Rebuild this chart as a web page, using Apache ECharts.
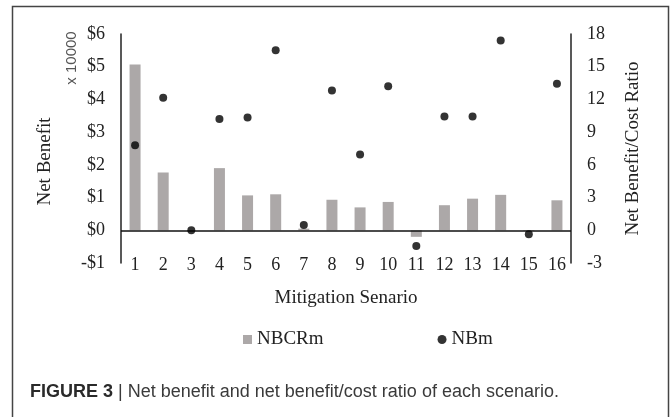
<!DOCTYPE html>
<html>
<head>
<meta charset="utf-8">
<script src="https://cdn.jsdelivr.net/npm/echarts@6/dist/echarts.min.js"></script>
<style>
html,body{margin:0;padding:0;background:#fff;}
#chart{width:672px;height:417px;}
</style>
</head>
<body>
<div id="chart"></div>
<script>
var categories = ['1','2','3','4','5','6','7','8','9','10','11','12','13','14','15','16'];
// Net benefit / cost ratio (bars, right axis)
var nbcrm = [15.2, 5.3, 0, 5.7, 3.2, 3.3, 0.15, 2.8, 2.1, 2.6, -0.6, 2.3, 2.9, 3.25, -0.05, 2.75];
// Net benefit, x 10000 $ (dots, left axis)
var nbm = [2.6, 4.05, 0.0, 3.4, 3.45, 5.5, 0.16, 4.27, 2.32, 4.4, -0.48, 3.48, 3.48, 5.8, -0.12, 4.48];
var leftTickLabels = ['-$1','$0','$1','$2','$3','$4','$5','$6'];
var rightTickLabels = ['-3','0','3','6','9','12','15','18'];

var serif = '"Liberation Serif","Times New Roman",serif';
var chart = echarts.init(document.getElementById('chart'));
chart.setOption({
  animation: false,
  backgroundColor: '#fff',
  grid: {left: 121, right: 101, top: 34, bottom: 154, containLabel: false},
  legend: {
    left: 238, top: 325,
    itemWidth: 9, itemHeight: 9, itemGap: 114,
    textStyle: {fontFamily: serif, fontSize: 19, color: '#222'},
    data: [{name: 'NBCRm', icon: 'rect'}, {name: 'NBm', icon: 'circle'}]
  },
  xAxis: {
    type: 'category',
    data: categories,
    name: 'Mitigation Senario',
    nameLocation: 'middle',
    nameGap: 26,
    nameTextStyle: {fontFamily: serif, fontSize: 19, color: '#222'},
    axisLine: {show: false, onZero: false},
    axisTick: {show: false},
    axisLabel: {margin: -7, fontFamily: serif, fontSize: 18, color: '#222'},
    splitLine: {show: false}
  },
  yAxis: [{
    type: 'value', min: -1, max: 6, interval: 1, position: 'left',
    name: 'Net Benefit', nameLocation: 'middle', nameRotate: 90, nameGap: 66,
    nameTextStyle: {fontFamily: serif, fontSize: 19, color: '#222', padding: [0, 26, 0, 0]},
    axisLine: {show: true, onZero: false, lineStyle: {color: '#222', width: 1.5}},
    axisTick: {show: false},
    splitLine: {show: false},
    axisLabel: {margin: 16, fontFamily: serif, fontSize: 18, color: '#222',
      formatter: function (v) { return leftTickLabels[Math.round(v) + 1]; }}
  }, {
    type: 'value', min: -3, max: 18, interval: 3, position: 'right',
    name: 'Net Benefit/Cost Ratio', nameLocation: 'middle', nameRotate: 90, nameGap: 53,
    nameTextStyle: {fontFamily: serif, fontSize: 19, color: '#222'},
    axisLine: {show: true, onZero: false, lineStyle: {color: '#222', width: 1.5}},
    axisTick: {show: false},
    splitLine: {show: false},
    axisLabel: {margin: 16, fontFamily: serif, fontSize: 18, color: '#222',
      formatter: function (v) { return rightTickLabels[Math.round(v / 3) + 1]; }}
  }],
  series: [{
    name: 'NBCRm', type: 'bar', yAxisIndex: 1, data: nbcrm,
    barWidth: 11,
    itemStyle: {color: '#aca8a8'},
    markLine: {
      silent: true, symbol: 'none', label: {show: false},
      lineStyle: {color: '#111', width: 1.5, type: 'solid'},
      data: [{yAxis: 0}]
    },
    z: 2
  }, {
    name: 'NBm', type: 'scatter', yAxisIndex: 0, data: nbm,
    symbol: 'circle', symbolSize: 8,
    itemStyle: {color: '#000'},
    z: 5
  }],
  graphic: [{
    type: 'rect', silent: true,
    shape: {x: 12.5, y: 6.5, width: 656, height: 420},
    style: {fill: 'none', stroke: '#444', lineWidth: 1.5}
  }, {
    type: 'text', silent: true,
    x: 72, y: 58, rotation: Math.PI / 2,
    style: {text: 'x 10000', fontFamily: '"Liberation Sans",Arial,sans-serif', fontSize: 15,
      fill: '#555', align: 'center', verticalAlign: 'middle'}
  }, {
    type: 'text', silent: true,
    left: 30, top: 383,
    style: {
      text: '{b|FIGURE 3} {n|| Net benefit and net benefit/cost ratio of each scenario.}',
      rich: {
        b: {fontFamily: '"Liberation Sans",Arial,sans-serif', fontSize: 18, fontWeight: 'bold', fill: '#2a2a2a'},
        n: {fontFamily: '"Liberation Sans",Arial,sans-serif', fontSize: 18, fill: '#3a3a3a'}
      },
      fontFamily: '"Liberation Sans",Arial,sans-serif', fontSize: 18
    }
  }]
});
</script>
</body>
</html>
